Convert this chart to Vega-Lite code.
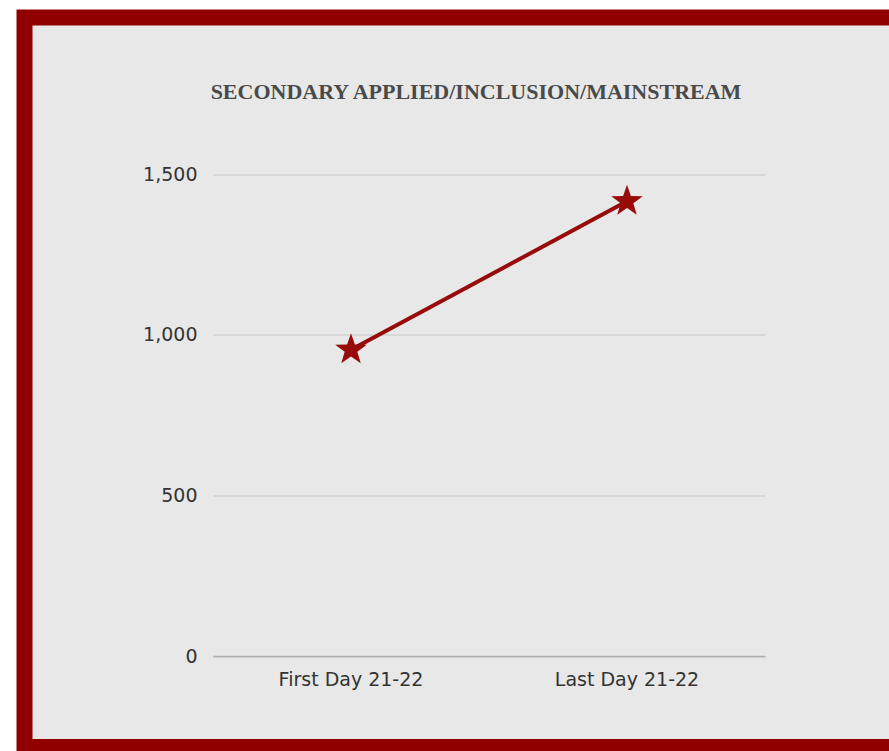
{
  "$schema": "https://vega.github.io/schema/vega-lite/v6.json",
  "usermeta": {"embedOptions": {"actions": false}},
  "autosize": {"type": "none"},
  "padding": {"left": 24.5, "top": 17.5, "right": 0, "bottom": 4},
  "width": 873,
  "height": 729.5,
  "background": "#ffffff",
  "config": {
    "view": {"fill": "#e8e8e8", "stroke": "#900000", "strokeWidth": 16},
    "axis": {
      "labelFont": "DejaVu Sans",
      "labelFontSize": 19,
      "labelColor": "#333333",
      "ticks": false,
      "title": null
    }
  },
  "title": {
    "text": "SECONDARY APPLIED/INCLUSION/MAINSTREAM",
    "font": "Liberation Serif",
    "fontSize": 22,
    "fontWeight": "bold",
    "color": "#4a4a4a",
    "anchor": "middle",
    "frame": "group",
    "baseline": "alphabetic",
    "offset": -103,
    "dx": 15,
    "letterSpacing": 0.2
  },
  "data": {
    "values": [
      {"period": "First Day 21-22", "students": 953},
      {"period": "Last Day 21-22", "students": 1415}
    ]
  },
  "encoding": {
    "x": {
      "field": "period",
      "type": "nominal",
      "sort": null,
      "scale": {"type": "band", "range": [188.5, 740.5], "paddingInner": 0, "paddingOuter": 0},
      "axis": {
        "orient": "bottom",
        "offset": -91,
        "labelAngle": 0,
        "labelPadding": 14,
        "domain": true,
        "domainColor": "#acacac",
        "domainWidth": 1.5,
        "grid": false
      }
    },
    "y": {
      "field": "students",
      "type": "quantitative",
      "scale": {"domain": [0, 1500], "range": [638.5, 156.5], "nice": false},
      "axis": {
        "orient": "left",
        "offset": -188.5,
        "values": [0, 500, 1000, 1500],
        "format": ",d",
        "domain": false,
        "labelPadding": 16,
        "grid": true,
        "gridColor": "#c8c8c8",
        "gridWidth": 1
      }
    }
  },
  "layer": [
    {"mark": {"type": "line", "color": "#970b0b", "strokeWidth": 4}},
    {
      "mark": {
        "type": "point",
        "shape": "M0,-1L0.2351,-0.3236L0.9511,-0.309L0.3804,0.1236L0.5878,0.809L0,0.4L-0.5878,0.809L-0.3804,0.1236L-0.9511,-0.309L-0.2351,-0.3236Z",
        "filled": true,
        "size": 1100,
        "color": "#970b0b",
        "opacity": 1
      }
    }
  ]
}
